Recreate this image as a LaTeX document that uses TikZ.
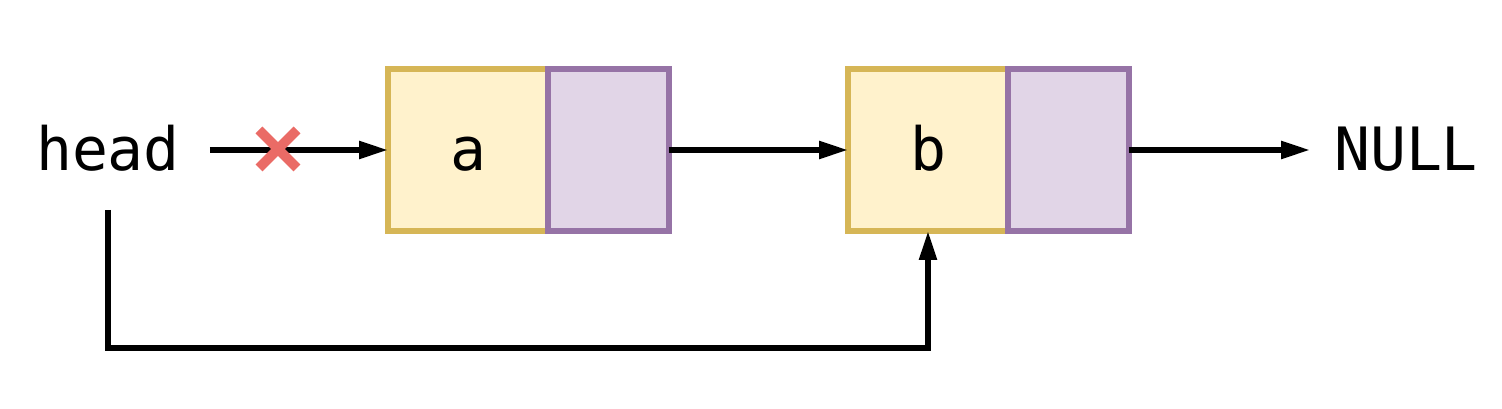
\documentclass[tikz,border=0pt]{standalone}
\usepackage{fontspec}
\setmonofont{DejaVu Sans Mono}
\usetikzlibrary{positioning,arrows.meta,calc}
\definecolor{datafill}{HTML}{FFF2CC}
\definecolor{dataline}{HTML}{D6B656}
\definecolor{ptrfill}{HTML}{E1D5E7}
\definecolor{ptrline}{HTML}{9673A6}
\definecolor{cutred}{HTML}{EA6B66}
\tikzset{
  datacell/.style={draw=dataline,fill=datafill,line width=3pt,minimum width=3.2cm,minimum height=3.24cm,outer sep=0pt},
  ptrcell/.style={draw=ptrline,fill=ptrfill,line width=3pt,minimum width=2.42cm,minimum height=3.24cm,outer sep=0pt},
  txt/.style={font=\ttfamily\fontsize{34}{40}\selectfont,inner sep=0pt,outer sep=0pt,text height=0.84cm,text depth=0cm},
  link/.style={line width=3pt,-{Triangle[length=0.58cm,width=0.34cm]}}
}
\begin{document}
\begin{tikzpicture}[x=0.02cm,y=0.02cm]
        \useasboundingbox (0,0) rectangle (1502,409);
        
        \node[txt,minimum width=4.08cm,minimum height=2.4cm] (head) at (108,259) {head};
        \node[datacell,txt] (a) at (468,259) {a};
        \node[ptrcell,right=0pt of a] (pa) {};
        \node[datacell,txt] (b) at (928,259) {b};
        \node[ptrcell,right=0pt of b] (pb) {};
        \node[txt,minimum width=3.84cm] (null) at (1406,259) {NULL};
        
        \draw[link] (head) -- (a);
        \draw[link] (pa) -- (b);
        \draw[link] (pb) -- (null);
        \draw[link,line join=miter] (head.south) -- ++(0,-138) -| (b.south);
        
        % the old link is cut
        \coordinate (cut) at (278,260);
        \draw[cutred,line width=5.6pt] ($(cut)+(-19,-19)$) -- ($(cut)+(19,19)$)
            ($(cut)+(-19,19)$) -- ($(cut)+(19,-19)$);
        
\end{tikzpicture}
\end{document}
